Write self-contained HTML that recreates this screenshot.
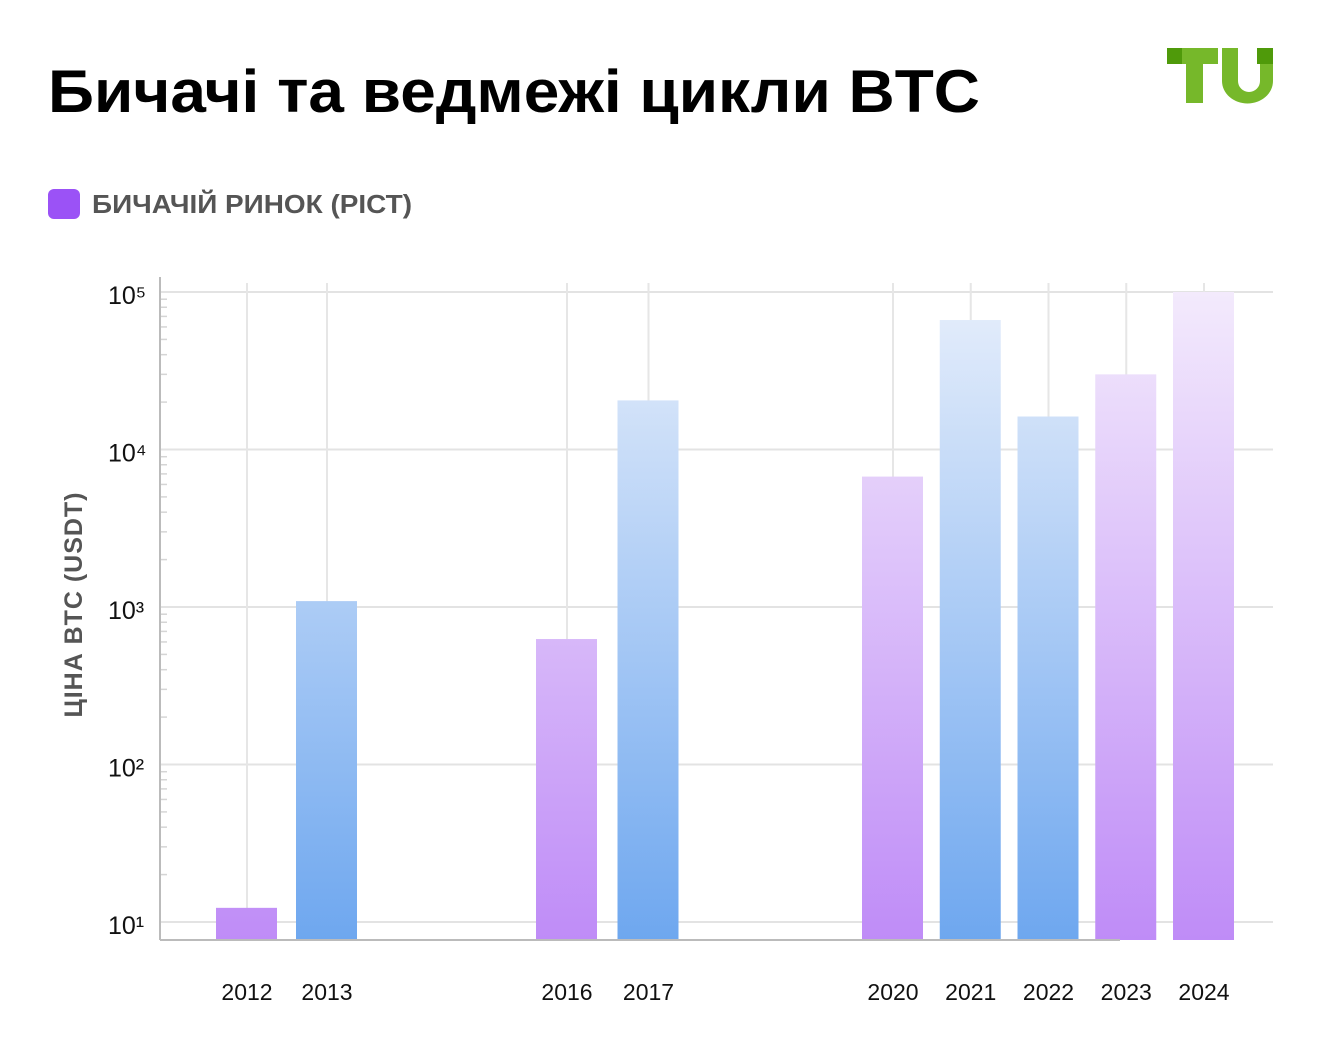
<!DOCTYPE html>
<html><head><meta charset="utf-8"><style>
body{margin:0;background:#fff;width:1340px;height:1054px;overflow:hidden;font-family:"Liberation Sans","DejaVu Sans",sans-serif}
</style></head><body>
<svg width="1340" height="1054" xmlns="http://www.w3.org/2000/svg">
<defs>
<linearGradient id="gp" gradientUnits="userSpaceOnUse" x1="0" y1="292" x2="0" y2="940"><stop offset="0" stop-color="#f3eafc"/><stop offset="1" stop-color="#bf8cf7"/></linearGradient>
<linearGradient id="gb" gradientUnits="userSpaceOnUse" x1="0" y1="292" x2="0" y2="940"><stop offset="0" stop-color="#e6eefb"/><stop offset="1" stop-color="#6ea7ef"/></linearGradient>
</defs>
<text x="48" y="112" font-size="60" font-weight="bold" fill="#000" textLength="932" lengthAdjust="spacingAndGlyphs">Бичачі та ведмежі цикли BTC</text>
<g>
<rect x="1167" y="48" width="16" height="16" fill="#4f9a0a"/><rect x="1182" y="48" width="36" height="16" fill="#76b82a"/><rect x="1186" y="48" width="17" height="55" fill="#76b82a"/>
<path d="M1222 48h16v33a11 11 0 0 0 22 0v-33h13v33a25 22 0 0 1-51 0z" fill="#76b82a"/><rect x="1257" y="48" width="16" height="16" fill="#4f9a0a"/>
</g>
<rect x="48" y="189" width="32" height="30" rx="6" fill="#9b52f6"/>
<text x="92" y="213" font-size="26" font-weight="bold" fill="#555" textLength="320" lengthAdjust="spacingAndGlyphs">БИЧАЧІЙ РИНОК (РІСТ)</text>
<text transform="translate(82,605) rotate(-90)" text-anchor="middle" font-size="25" fill="#555" font-weight="bold" textLength="225">ЦІНА BTC (USDT)</text>
<g id="plot"></g>
</svg>
<script>
const years=[2012,2013,2016,2017,2020,2021,2022,2023,2024];
const prices=[12.3,1090,626,20500,6730,66400,16200,30000,100000];
const bull=[1,0,1,0,1,0,0,1,1];
const yTicks=[1,2,3,4,5];
const tickLabels=["10¹","10²","10³","10⁴","10⁵"];
const NS="http://www.w3.org/2000/svg";
const g=document.getElementById('plot');
const xBreakYears=[2012,2016,2020,2024], xBreakPx=[247,567,893,1204];
function xs(y){
 for(let i=0;i<xBreakYears.length-1;i++){
  if(y<=xBreakYears[i+1]||i==xBreakYears.length-2){
   const a=xBreakYears[i],b=xBreakYears[i+1];
   return xBreakPx[i]+(y-a)/(b-a)*(xBreakPx[i+1]-xBreakPx[i]);
  }
 }
}
const ys=v=>922-(Math.log10(v)-1)*157.5;
function mk(t,a){const e=document.createElementNS(NS,t);for(const k in a)e.setAttribute(k,a[k]);g.appendChild(e);return e;}
yTicks.forEach((p,i)=>{
 const y=ys(Math.pow(10,p));
 const l=mk('line',{x1:160,x2:1273,y1:y,y2:y,stroke:'#e3e3e3','stroke-width':2});
 
 
 const t=mk('text',{x:108,y:y+12,'font-size':25,fill:'#111'});t.textContent=tickLabels[i];
 
 
 for(let m=2;m<10;m++){const yy=ys(Math.pow(10,p)*m);if(yy<283)continue;
  const tk=mk('line',{x1:161,x2:167,y1:yy,y2:yy,stroke:'#d5d5d5','stroke-width':1.5});
  
  }
});
years.forEach((yr,i)=>{
 const x=xs(yr);
 const gl=mk('line',{x1:x,x2:x,y1:283,y2:940,stroke:'#e6e6e6','stroke-width':2});
 
 
});
years.forEach((yr,i)=>{
 const x=xs(yr),top=ys(prices[i]);
 const b=mk('rect',{x:x-31,y:top,width:61,height:940-top,fill:bull[i]?'url(#gp)':'url(#gb)'});
 
 
 const t=mk('text',{x:x,y:1000,'text-anchor':'middle','font-size':23,fill:'#111'});t.textContent=yr;
 
 
});
const ax=mk('line',{x1:160,x2:160,y1:277,y2:940,stroke:'#bbb','stroke-width':2});


const bx=mk('line',{x1:160,x2:1120,y1:940,y2:940,stroke:'#bbb','stroke-width':2});


</script>
</body></html>
